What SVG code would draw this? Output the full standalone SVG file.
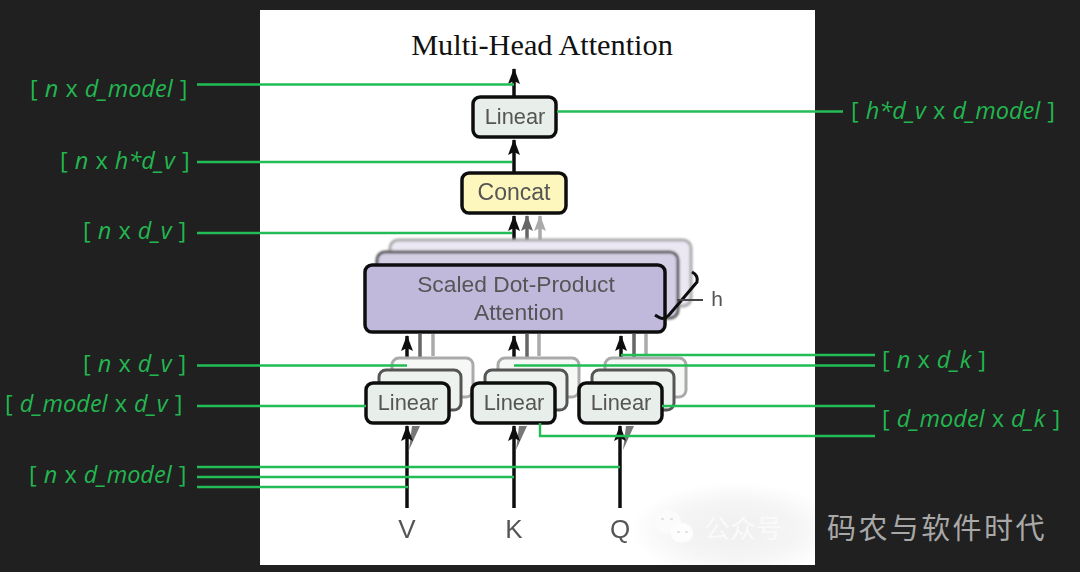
<svg xmlns="http://www.w3.org/2000/svg" width="1080" height="572" viewBox="0 0 1080 572">
<defs>
<style>
.box{stroke:#111;stroke-width:3.5}
.lin{fill:#e8eeea}
.b1{fill:#eef2ef;stroke:#555;stroke-width:3}
.b2{fill:#f6f8f6;stroke:#aaa;stroke-width:3}
.t{font-family:"Liberation Sans",Arial,sans-serif;fill:#555;text-anchor:middle}
.g{font-family:"Open Sans","Liberation Sans",sans-serif;font-size:23.500px;word-spacing:1px;fill:#23b650}
.g tspan{font-style:italic}
.gl{fill:none;stroke:#23bd55;stroke-width:2.4}
.a{fill:none;stroke:#111;stroke-width:3.5}
.a2{fill:none;stroke:#666;stroke-width:3.5}
.a3{fill:none;stroke:#aaa;stroke-width:3.5}
</style>
<filter id="s" x="-5%" y="-5%" width="110%" height="110%"><feGaussianBlur stdDeviation="0.6"/></filter>
<filter id="s2" x="-5%" y="-5%" width="110%" height="110%"><feGaussianBlur stdDeviation="0.9"/></filter>
<radialGradient id="wm"><stop offset="0" stop-color="#efefef"/><stop offset="0.6" stop-color="#f5f5f5"/><stop offset="1" stop-color="#fff"/></radialGradient>
<marker id="h" markerUnits="userSpaceOnUse" markerWidth="14" markerHeight="17" refX="7" refY="1" viewBox="0 0 14 17"><path d="M7 0L13 16L7 13L1 16Z" fill="#111"/></marker>
<marker id="h2" markerUnits="userSpaceOnUse" markerWidth="14" markerHeight="17" refX="7" refY="1" viewBox="0 0 14 17"><path d="M7 0L13 16L7 13L1 16Z" fill="#666"/></marker>
<marker id="h3" markerUnits="userSpaceOnUse" markerWidth="14" markerHeight="17" refX="7" refY="1" viewBox="0 0 14 17"><path d="M7 0L13 16L7 13L1 16Z" fill="#aaa"/></marker>
</defs>
<rect width="1080" height="572" fill="#202020"/>
<rect x="260" y="10" width="555" height="555" fill="#fff"/>
<ellipse cx="735" cy="530" rx="105" ry="48" fill="url(#wm)"/>
<rect x="815" y="470" width="265" height="102" fill="#202020"/>
<rect x="260" y="565" width="820" height="7" fill="#202020"/>
<text id="title" x="542" y="55" font-family="Liberation Serif,serif" font-size="30.300" fill="#111" text-anchor="middle">Multi-Head Attention</text>

<g id="connectors-diagram" filter="url(#s)">
<path class="a" d="M514 69V96" marker-start="url(#h)"/>
<path class="a" d="M514 140V172" marker-start="url(#h)"/>
<path class="a" d="M514 216V264" marker-start="url(#h)"/>
<path class="a2" d="M527 216V252" marker-start="url(#h2)"/>
<path class="a3" d="M540 216V240" marker-start="url(#h3)"/>
<path class="a3" d="M433 334V356M539 334V356M646 334V356"/>
<path class="a2" d="M420 334V368M527 334V368M634 334V368"/>
<path class="a" d="M407 336V382" marker-start="url(#h)"/>
<path class="a" d="M514 336V382" marker-start="url(#h)"/>
<path class="a" d="M621 336V382" marker-start="url(#h)"/>
<path d="M412 426H420L409 450Z M519 426H527L516 450Z M626 426H634L623 450Z" fill="#777"/>
<path class="a" d="M407 426V508" marker-start="url(#h)"/>
<path class="a" d="M514 426V508" marker-start="url(#h)"/>
<path class="a" d="M620 426V508" marker-start="url(#h)"/>
</g>

<g id="node-attention-back" filter="url(#s2)">
<rect class="b2" x="390" y="240" width="301" height="66" rx="8" style="fill:#ebe7f3"/>
<rect class="b1" x="377" y="252" width="301" height="66" rx="8" style="fill:#d5cfe6"/>
</g>
<g id="node-attention" filter="url(#s)">
<rect class="box" x="365" y="265" width="300" height="67" rx="7" fill="#c1b9dc"/>
<text class="t" x="516" y="292" font-size="22.800">Scaled Dot-Product</text>
<text class="t" x="519" y="320" font-size="22.800">Attention</text>
</g>
<g id="h-bracket" filter="url(#s)">
<path d="M655 315C662 320 665 319 669 315L697 282C698 277 696 274 692 272" fill="none" stroke="#111" stroke-width="3"/>
<path d="M677 300H703" stroke="#444" stroke-width="2" fill="none"/>
<text class="t" x="717" y="306" font-size="21">h</text>
</g>

<g id="node-linear-v" filter="url(#s)">
<rect class="b2" x="392" y="358" width="81" height="39" rx="7"/>
<rect class="b1" x="379" y="370" width="82" height="40" rx="7"/>
<rect class="box lin" x="366" y="383" width="83" height="40" rx="7"/>
<text class="t" x="408" y="410" font-size="21.800">Linear</text>
</g>
<g id="node-linear-k" filter="url(#s)">
<rect class="b2" x="498" y="358" width="81" height="39" rx="7"/>
<rect class="b1" x="485" y="370" width="82" height="40" rx="7"/>
<rect class="box lin" x="472" y="383" width="83" height="40" rx="7"/>
<text class="t" x="514" y="410" font-size="21.800">Linear</text>
</g>
<g id="node-linear-q" filter="url(#s)">
<rect class="b2" x="605" y="358" width="81" height="39" rx="7"/>
<rect class="b1" x="592" y="370" width="82" height="40" rx="7"/>
<rect class="box lin" x="579" y="383" width="83" height="40" rx="7"/>
<text class="t" x="621" y="410" font-size="21.800">Linear</text>
</g>
<g id="node-linear-top" filter="url(#s)">
<rect class="box lin" x="473" y="97" width="83" height="40" rx="7"/>
<text class="t" x="515" y="124" font-size="21.800">Linear</text>
</g>
<g id="node-concat" filter="url(#s)">
<rect class="box" x="462" y="173" width="104" height="40" rx="7" fill="#fdf6bd"/>
<text class="t" x="514" y="200" font-size="23">Concat</text>
</g>
<g id="node-v" filter="url(#s)"><text class="t" x="407" y="538" font-size="26">V</text></g>
<g id="node-k" filter="url(#s)"><text class="t" x="514" y="538" font-size="26">K</text></g>
<g id="node-q" filter="url(#s)"><text class="t" x="620" y="538" font-size="26">Q</text></g>

<g id="connectors">
<path class="gl" d="M197 84.500H514M197 162H512M197 233H512M197 365.500H407M197 406H366M197 467H620M197 477H514M197 487H408M843 111.500H557M875 355H621M875 365.500H514M875 406H662M875 436H540V423"/>
</g>

<g id="labels">
<text class="g" x="30" y="97">[ <tspan>n</tspan> x <tspan>d_model</tspan> ]</text>
<text class="g" x="60" y="169">[ <tspan>n</tspan> x <tspan>h*d_v</tspan> ]</text>
<text class="g" x="83" y="239">[ <tspan>n</tspan> x <tspan>d_v</tspan> ]</text>
<text class="g" x="83" y="372">[ <tspan>n</tspan> x <tspan>d_v</tspan> ]</text>
<text class="g" x="5" y="412">[ <tspan>d_model</tspan> x <tspan>d_v</tspan> ]</text>
<text class="g" x="29" y="483">[ <tspan>n</tspan> x <tspan>d_model</tspan> ]</text>
<text class="g" x="851" y="119">[ <tspan>h*d_v</tspan> x <tspan>d_model</tspan> ]</text>
<text class="g" x="882" y="368">[ <tspan>n</tspan> x <tspan>d_k</tspan> ]</text>
<text class="g" x="882" y="427">[ <tspan>d_model</tspan> x <tspan>d_k</tspan> ]</text>
</g>

<g id="watermark">
<ellipse cx="668" cy="522" rx="13" ry="11.500" fill="#fbfbfb"/>
<ellipse cx="682" cy="533" rx="11" ry="10" fill="#fdfdfd"/>
<path d="M661 519h3M670 519h3M677 532h3M685 532h3" stroke="#e4e4e4" stroke-width="2" fill="none"/>
<text x="704" y="538" font-family="Noto Sans CJK SC,sans-serif" font-size="26" fill="#fafafa">公众号</text>
<text x="827" y="539" font-family="Noto Sans CJK SC,sans-serif" font-size="29" letter-spacing="2.400" fill="#a8a8a8">码农与软件时代</text>
</g>
</svg>
